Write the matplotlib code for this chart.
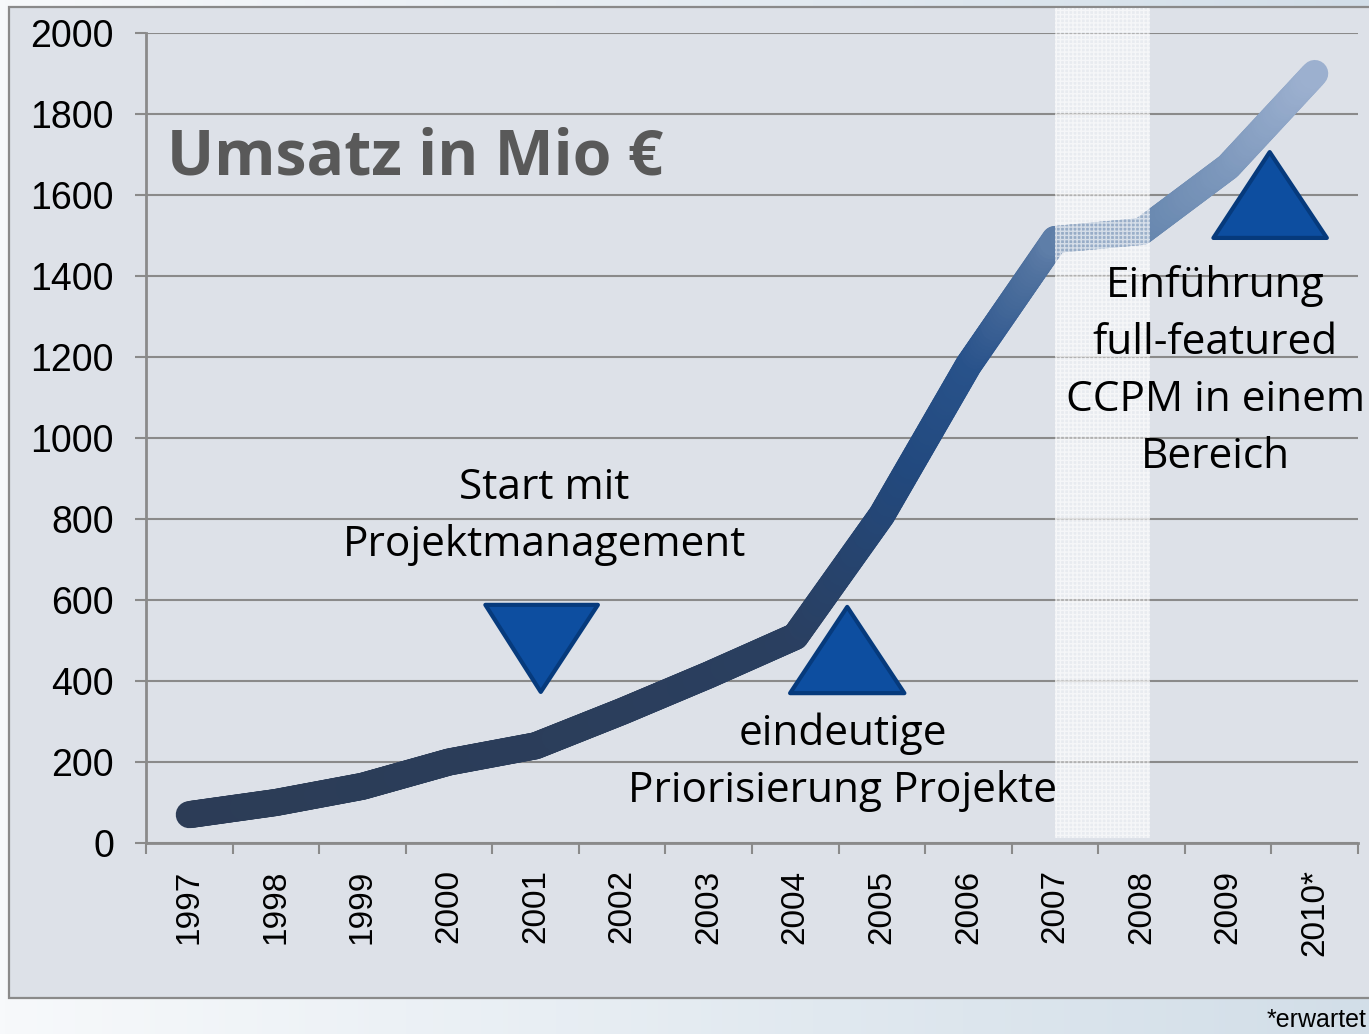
import numpy as np
import matplotlib.pyplot as plt
from matplotlib.collections import LineCollection
from matplotlib.colors import LinearSegmentedColormap, to_rgb
from matplotlib.patches import Rectangle, Polygon

years = ['1997', '1998', '1999', '2000', '2001', '2002', '2003',
         '2004', '2005', '2006', '2007', '2008', '2009', '2010*']
umsatz = [70, 100, 140, 200, 240, 325, 415, 510, 810, 1180, 1490, 1510, 1670, 1900]
y_ticks = [0, 200, 400, 600, 800, 1000, 1200, 1400, 1600, 1800, 2000]

title = 'Umsatz in Mio €'
note_start = 'Start mit\nProjektmanagement'
note_prio = 'eindeutige\nPriorisierung Projekte'
note_ccpm = 'Einführung\nfull-featured\nCCPM in einem\nBereich'
footnote = '*erwartet'

GREY = '#8a8a8a'
TRI_FACE = '#0d4ea0'
TRI_EDGE = '#063a7c'

# colour of the line depends on its height (vertical gradient)
line_cmap = LinearSegmentedColormap.from_list(
    'umsatz', [(0.0, '#2c3c55'), (0.27, '#2a3f60'), (0.5, '#22497e'),
               (0.63, '#28528a'), (0.77, '#5676a2'), (0.8, '#6686ae'),
               (1.0, '#9cb0cf')])


def gradient_segments(xs, ys, steps=40):
    # split every segment in small pieces so each piece gets its own colour
    pts = []
    for i in range(len(xs) - 1):
        t = np.linspace(0, 1, steps, endpoint=False)
        pts.append(np.column_stack([xs[i] + (xs[i + 1] - xs[i]) * t,
                                    ys[i] + (ys[i + 1] - ys[i]) * t]))
    pts.append(np.array([[xs[-1], ys[-1]]]))
    pts = np.vstack(pts)
    segs = np.stack([pts[:-1], pts[1:]], axis=1)
    mid = (pts[:-1, 1] + pts[1:, 1]) / 2
    return segs, mid


def main():
    fig = plt.figure(figsize=(13.69, 10.34), dpi=100)

    # page background gradient
    bg = fig.add_axes([0, 0, 1, 1], zorder=-10)
    c1, c2 = np.array(to_rgb('#f7f9fb')), np.array(to_rgb('#d2dee8'))
    g = np.linspace(0, 1, 256)[None, :, None]
    bg.imshow(c1 + (c2 - c1) * g, aspect='auto', extent=[0, 1, 0, 1])
    bg.set_axis_off()

    # chart frame
    fig.patches.append(Rectangle((9 / 1369, (1034 - 998) / 1034), 1.0, (998 - 7) / 1034,
                                 transform=fig.transFigure, facecolor='#dde1e8',
                                 edgecolor=GREY, linewidth=1.6, zorder=-5))

    ax = fig.add_axes([146 / 1369, (1034 - 843) / 1034, 1212 / 1369, 810 / 1034])
    ax.patch.set_alpha(0)

    x = np.arange(len(years))
    ax.set_xlim(-0.5, len(years) - 0.5)
    ax.set_ylim(0, 2000)

    ax.set_yticks(y_ticks)
    ax.set_yticklabels([str(v) for v in y_ticks], fontsize=27, family='Liberation Sans')
    ax.yaxis.grid(True, color=GREY, linewidth=1.5)
    ax.set_axisbelow(True)
    ax.tick_params(axis='y', length=8, width=1.5, color=GREY, pad=15)

    ax.set_xticks(np.arange(-0.5, len(years), 1))
    ax.set_xticklabels([])
    ax.set_xticks(x, minor=True)
    ax.set_xticklabels(years, minor=True, rotation=90, fontsize=24, family='Liberation Sans')
    ax.tick_params(axis='x', which='major', length=8, width=1.5, color=GREY)
    ax.tick_params(axis='x', which='minor', length=0, pad=19)

    for s in ['top', 'right']:
        ax.spines[s].set_visible(False)
    for s in ['left', 'bottom']:
        ax.spines[s].set_color(GREY)
        ax.spines[s].set_linewidth(2)

    segs, mid = gradient_segments(x.astype(float), np.array(umsatz, dtype=float))
    lc = LineCollection(segs, colors=line_cmap(mid / 1900), linewidths=19.5,
                        capstyle='round', joinstyle='round', zorder=3)
    ax.add_collection(lc)

    # highlighted band 2007/2008
    band = Rectangle((10.0, 12), 1.1, 2050, facecolor=(1, 1, 1, 0.35),
                     edgecolor=(1, 1, 1, 0.6), hatch='++++', linewidth=0,
                     zorder=4, clip_on=False)
    ax.add_patch(band)

    tri = dict(facecolor=TRI_FACE, edgecolor=TRI_EDGE, linewidth=3,
               joinstyle='round', zorder=5)
    ax.add_patch(Polygon([[3.42, 588], [4.72, 588], [4.06, 373]], closed=True, **tri))
    ax.add_patch(Polygon([[6.94, 370], [8.26, 370], [7.6, 583]], closed=True, **tri))
    ax.add_patch(Polygon([[11.83, 1494], [13.14, 1494], [12.48, 1706]], closed=True, **tri))

    txt = dict(family='Open Sans', fontsize=30.5, color='black', ha='center',
               va='center', linespacing=1.47, zorder=6)
    ax.text(4.1, 806, note_start, **txt)
    ax.text(7.55, 200, note_prio, **txt)
    ax.text(11.85, 1165, note_ccpm, **txt)

    ax.text(0.0173, 0.8247, title, transform=ax.transAxes, family='Open Sans',
            fontweight='bold', fontsize=45, color='#595959', ha='left', va='baseline')

    fig.text(1366 / 1369, (1034 - 1020) / 1034, footnote, family='Liberation Sans',
             fontsize=18, ha='right', va='center')

    fig.savefig('out.png', dpi=100)


if __name__ == '__main__':
    main()
